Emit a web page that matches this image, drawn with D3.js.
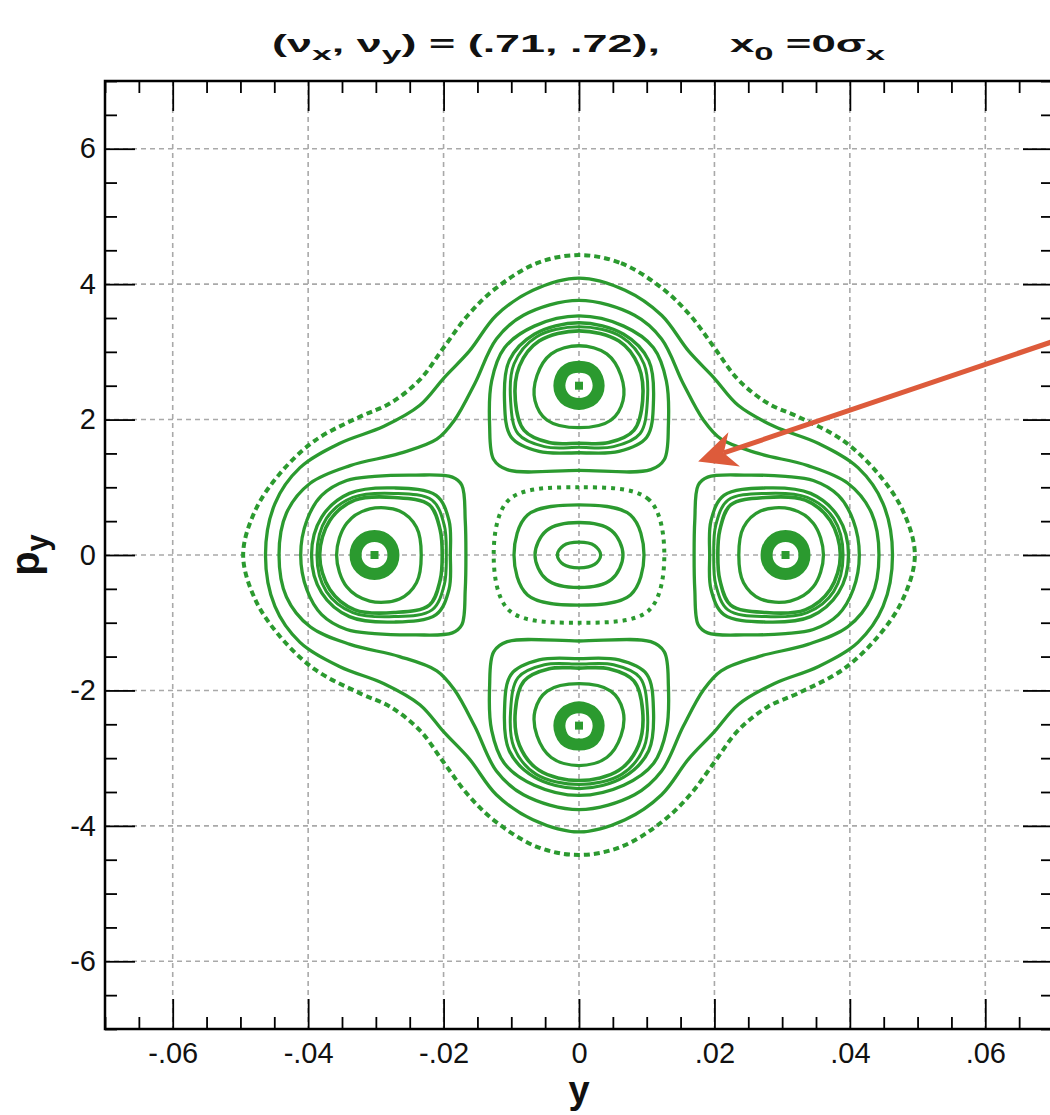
<!DOCTYPE html>
<html>
<head>
<meta charset="utf-8">
<script src="https://cdn.jsdelivr.net/npm/d3@7"></script>
<style>
  html, body { margin: 0; padding: 0; background: #fff; }
  svg { display: block; }
</style>
</head>
<body>
<svg id="chart" width="1050" height="1115"></svg>
<script>
// ---- Phase-space data: (y, p_y) points along each invariant curve ----

// Tick values and labels
const xMajor = [-0.06, -0.04, -0.02, 0, 0.02, 0.04, 0.06];
const xTickLabels = ["-.06", "-.04", "-.02", "0", ".02", ".04", ".06"];
const yMajor = [-6, -4, -2, 0, 2, 4, 6];
const yTickLabels = ["-6", "-4", "-2", "0", "2", "4", "6"];

// Outermost (dotted) orbit
const outerDotted = [
  [0, 4.43], [.0062, 4.31], [.0124, 3.93], [.0165, 3.53], [.020, 3.06], [.0235, 2.59], [.0279, 2.24], [.0324, 2.04], [.039, 1.69], [.0441, 1.21], [.0478, .66], [.0496, 0],
  [.0478, -.66], [.0441, -1.21], [.039, -1.69], [.0324, -2.04], [.0279, -2.24], [.0235, -2.59], [.020, -3.06], [.0165, -3.53], [.0124, -3.93], [.0062, -4.31], [0, -4.43],
  [-.0062, -4.31], [-.0124, -3.93], [-.0165, -3.53], [-.020, -3.06], [-.0235, -2.59], [-.0279, -2.24], [-.0324, -2.04], [-.039, -1.69], [-.0441, -1.21], [-.0478, -.66], [-.0496, 0],
  [-.0478, .66], [-.0441, 1.21], [-.039, 1.69], [-.0324, 2.04], [-.0279, 2.24], [-.0235, 2.59], [-.020, 3.06], [-.0165, 3.53], [-.0124, 3.93], [-.0062, 4.31]
];

// Second outer orbit
const outerSolid = [
  [0, 4.09], [.0068, 3.91], [.0122, 3.54], [.0162, 3.01], [.0199, 2.62], [.0235, 2.21], [.0288, 1.90], [.0353, 1.65], [.0412, 1.29], [.0449, .76], [.0463, 0],
  [.0449, -.76], [.0412, -1.29], [.0353, -1.65], [.0288, -1.90], [.0235, -2.21], [.0199, -2.62], [.0162, -3.01], [.0122, -3.54], [.0068, -3.91], [0, -4.09],
  [-.0068, -3.91], [-.0122, -3.54], [-.0162, -3.01], [-.0199, -2.62], [-.0235, -2.21], [-.0288, -1.90], [-.0353, -1.65], [-.0412, -1.29], [-.0449, -.76], [-.0463, 0],
  [-.0449, .76], [-.0412, 1.29], [-.0353, 1.65], [-.0288, 1.90], [-.0235, 2.21], [-.0199, 2.62], [-.0162, 3.01], [-.0122, 3.54], [-.0068, 3.91]
];

// Orbit hugging the four resonance islands
const separatrix = [
  [0, 3.76], [.0082, 3.54], [.0122, 3.19], [.0154, 2.53], [.0184, 1.99], [.021, 1.71], [.0265, 1.50], [.0338, 1.32], [.0397, 1.06], [.0432, .62], [.0443, 0],
  [.0432, -.62], [.0397, -1.06], [.0338, -1.32], [.0265, -1.50], [.021, -1.71], [.0184, -1.99], [.0154, -2.53], [.0122, -3.19], [.0082, -3.54], [0, -3.76],
  [-.0082, -3.54], [-.0122, -3.19], [-.0154, -2.53], [-.0184, -1.99], [-.021, -1.71], [-.0265, -1.50], [-.0338, -1.32], [-.0397, -1.06], [-.0432, -.62], [-.0443, 0],
  [-.0432, .62], [-.0397, 1.06], [-.0338, 1.32], [-.0265, 1.50], [-.021, 1.71], [-.0184, 1.99], [-.0154, 2.53], [-.0122, 3.19], [-.0082, 3.54]
];

// Central stable region around the origin
const core1 = [[.0032, 0], [.0023, .14], [0, .19], [-.0023, .14], [-.0032, 0], [-.0023, -.14], [0, -.19], [.0023, -.14]];
const core2 = [[.0065, 0], [.0048, .36], [0, .48], [-.0048, .36], [-.0065, 0], [-.0048, -.36], [0, -.48], [.0048, -.36]];
const core3 = [[.0096, 0], [.0076, .59], [0, .74], [-.0076, .59], [-.0096, 0], [-.0076, -.59], [0, -.74], [.0076, -.59]];
const core4 = [[.0126, 0], [.0103, .82], [0, 1.0], [-.0103, .82], [-.0126, 0], [-.0103, -.82], [0, -1.0], [.0103, -.82]];

// Island centres (fixed points of the 4th-order resonance)
const islandCentres = [
  { y: -0.0302, p: 0, axis: "h", sign: -1 },
  { y: 0.0305, p: 0, axis: "h", sign: 1 },
  { y: 0, p: 2.50, axis: "v", sign: 1 },
  { y: 0, p: -2.52, axis: "v", sign: -1 }
];

// Islands on the y axis: [offset away from the origin in y, offset in p_y]
const hRing1 = [[.0028, 0], [.002, .2], [0, .28], [-.002, .2], [-.0028, 0], [-.002, -.2], [0, -.28], [.002, -.2]];
const hRing2 = [[.0056, 0], [.0041, .47], [.0007, .68], [-.0037, .65], [-.0062, .41], [-.0069, 0], [-.0062, -.41], [-.0037, -.65], [.0007, -.68], [.0041, -.47]];
const hRing3 = [[.0081, 0], [.0066, .51], [.0029, .81], [-.0029, .85], [-.0081, .74], [-.0097, .37], [-.010, 0], [-.0097, -.37], [-.0081, -.74], [-.0029, -.85], [.0029, -.81], [.0066, -.51]];
const hRing3b = [[.0085, 0], [.0071, .54], [.0032, .85], [-.0029, .91], [-.0085, .81], [-.0103, .44], [-.0106, 0], [-.0103, -.44], [-.0085, -.81], [-.0029, -.91], [.0032, -.85], [.0071, -.54]];
const hRing4 = [[.0093, 0], [.0078, .56], [.0037, .91], [-.0029, .99], [-.0091, .88], [-.011, .51], [-.0112, 0], [-.011, -.51], [-.0091, -.88], [-.0029, -.99], [.0037, -.91], [.0078, -.56]];
const hRing5 = [[.0109, 0], [.010, .51], [.0078, .88], [.0041, 1.10], [0, 1.16], [-.0059, 1.18], [-.0115, 1.15], [-.0129, 1.03], [-.0134, .51], [-.0135, 0],
                [-.0134, -.51], [-.0129, -1.03], [-.0115, -1.15], [-.0059, -1.18], [0, -1.16], [.0041, -1.10], [.0078, -.88], [.010, -.51]];

// Islands on the p_y axis: [offset in y, offset away from the origin in p_y]
const vRing1 = [[0, .28], [.0021, .21], [.0029, 0], [.0021, -.19], [0, -.27], [-.0021, -.19], [-.0029, 0], [-.0021, .21]];
const vRing2 = [[0, .59], [.0041, .47], [.0062, .15], [.0065, -.22], [.0047, -.51], [0, -.62], [-.0047, -.51], [-.0065, -.22], [-.0062, .15], [-.0041, .47]];
const vRing3 = [[0, .81], [.0059, .66], [.0088, .29], [.0094, -.22], [.0081, -.66], [.0044, -.84], [0, -.85], [-.0044, -.84], [-.0081, -.66], [-.0094, -.22], [-.0088, .29], [-.0059, .66]];
const vRing3b = [[0, .87], [.0063, .72], [.0096, .32], [.0101, -.22], [.009, -.71], [.0051, -.90], [0, -.91], [-.0051, -.90], [-.009, -.71], [-.0101, -.22], [-.0096, .32], [-.0063, .72]];
const vRing4 = [[0, .93], [.0066, .76], [.0103, .37], [.011, -.22], [.010, -.76], [.0059, -.97], [0, -.99], [-.0059, -.97], [-.010, -.76], [-.011, -.22], [-.0103, .37], [-.0066, .76]];
const vRing5 = [[0, 1.03], [.0066, .88], [.011, .56], [.0129, .07], [.0132, -.59], [.0126, -1.09], [.0106, -1.24], [0, -1.25],
                [-.0106, -1.24], [-.0126, -1.09], [-.0132, -.59], [-.0129, .07], [-.011, .56], [-.0066, .88]];

// Annotation arrow: tail and head in (y, p_y)
const arrowTail = [0.0705, 3.17];
const arrowHead = [0.0176, 1.38];

// ---- Drawing ----
const W = 1050, H = 1115;
const GREEN = "#2b9a2f";
const svg = d3.select("#chart");
svg.append("rect").attr("width", W).attr("height", H).attr("fill", "#fff");

const x = d3.scaleLinear().domain([-0.07, 0.07]).range([105, 1053]);
const y = d3.scaleLinear().domain([-7, 7]).range([1029, 81]);

// grid
const grid = svg.append("g").attr("stroke", "#a9a9a9").attr("stroke-width", 1.6).attr("stroke-dasharray", "5,4");
grid.selectAll("line.gx").data(xMajor).join("line").attr("class", "gx")
  .attr("x1", d => x(d)).attr("x2", d => x(d)).attr("y1", y(7)).attr("y2", y(-7));
grid.selectAll("line.gy").data(yMajor).join("line").attr("class", "gy")
  .attr("y1", d => y(d)).attr("y2", d => y(d)).attr("x1", x(-0.07)).attr("x2", x(0.07));

// curves
const line = d3.line().x(d => x(d[0])).y(d => y(d[1])).curve(d3.curveCatmullRomClosed.alpha(0.5));
const plot = svg.append("g").attr("fill", "none").attr("stroke", GREEN);

function drawCurve(pts, width, dash) {
  const p = plot.append("path").attr("d", line(pts)).attr("stroke-width", width);
  if (dash) p.attr("stroke-dasharray", dash);
}

drawCurve(outerDotted, 4, "6,4");
drawCurve(outerSolid, 3.3);
drawCurve(separatrix, 3.3);
drawCurve(core1, 3.3);
drawCurve(core2, 3.3);
drawCurve(core3, 3.3);
drawCurve(core4, 4, "4,5");

const hRings = [[hRing1, 12], [hRing2, 3.3], [hRing3, 3.6], [hRing3b, 3], [hRing4, 3.3], [hRing5, 3.3]];
const vRings = [[vRing1, 12], [vRing2, 3.3], [vRing3, 3.6], [vRing3b, 3], [vRing4, 3.3], [vRing5, 3.3]];

islandCentres.forEach(c => {
  const rings = c.axis === "h" ? hRings : vRings;
  rings.forEach(([ring, w]) => {
    const pts = ring.map(([a, b]) => c.axis === "h"
      ? [c.y + c.sign * a, c.p + b]
      : [c.y + a, c.p + c.sign * b]);
    drawCurve(pts, w);
  });
  svg.append("rect")
    .attr("x", x(c.y) - 4).attr("y", y(c.p) - 4).attr("width", 8).attr("height", 8)
    .attr("fill", GREEN);
});

// axes
const FONT = "'Liberation Sans', Arial, Helvetica, sans-serif";
function styleAxis(g) {
  g.select(".domain").remove();
  g.selectAll(".tick line").attr("stroke", "#000").attr("stroke-width", 1.8);
  g.selectAll(".tick text").attr("fill", "#111").attr("font-family", FONT).attr("font-size", 29);
}
const xMinor = x.ticks(28).filter(v => !xMajor.some(m => Math.abs(m - v) < 1e-9));
const yMinor = y.ticks(28).filter(v => !yMajor.some(m => Math.abs(m - v) < 1e-9));

svg.append("g").attr("transform", `translate(0,${y(-7)})`)
  .call(d3.axisBottom(x).tickValues(xMajor).tickSize(-30).tickPadding(13).tickFormat((d, i) => xTickLabels[i]))
  .call(styleAxis);
svg.append("g").attr("transform", `translate(0,${y(-7)})`)
  .call(d3.axisBottom(x).tickValues(xMinor).tickSize(-12).tickFormat("")).call(styleAxis);
svg.append("g").attr("transform", `translate(0,${y(7)})`)
  .call(d3.axisTop(x).tickValues(xMajor).tickSize(-30).tickFormat("")).call(styleAxis);
svg.append("g").attr("transform", `translate(0,${y(7)})`)
  .call(d3.axisTop(x).tickValues(xMinor).tickSize(-12).tickFormat("")).call(styleAxis);

svg.append("g").attr("transform", `translate(${x(-0.07)},0)`)
  .call(d3.axisLeft(y).tickValues(yMajor).tickSize(-30).tickPadding(9).tickFormat((d, i) => yTickLabels[i]))
  .call(styleAxis);
svg.append("g").attr("transform", `translate(${x(-0.07)},0)`)
  .call(d3.axisLeft(y).tickValues(yMinor).tickSize(-12).tickFormat("")).call(styleAxis);
svg.append("g").attr("transform", `translate(${x(0.07)},0)`)
  .call(d3.axisRight(y).tickValues(yMajor).tickSize(-30).tickFormat("")).call(styleAxis);
svg.append("g").attr("transform", `translate(${x(0.07)},0)`)
  .call(d3.axisRight(y).tickValues(yMinor).tickSize(-12).tickFormat("")).call(styleAxis);

// frame
svg.append("rect")
  .attr("x", x(-0.07)).attr("y", y(7))
  .attr("width", x(0.07) - x(-0.07)).attr("height", y(-7) - y(7))
  .attr("fill", "none").attr("stroke", "#000").attr("stroke-width", 2.5);

// arrow annotation
const tail = [x(arrowTail[0]), y(arrowTail[1])];
const tip = [x(arrowHead[0]), y(arrowHead[1])];
const dx = tail[0] - tip[0], dy = tail[1] - tip[1];
const len = Math.hypot(dx, dy);
const ux = dx / len, uy = dy / len, nx = -uy, ny = ux;
const headLen = 38, headHalf = 18, notch = 27;
const ARROW = "#dd5b3b";
svg.append("line")
  .attr("x1", tail[0]).attr("y1", tail[1])
  .attr("x2", tip[0] + ux * notch).attr("y2", tip[1] + uy * notch)
  .attr("stroke", ARROW).attr("stroke-width", 5);
svg.append("path")
  .attr("d", `M${tip[0]},${tip[1]}`
    + `L${tip[0] + ux * headLen + nx * headHalf},${tip[1] + uy * headLen + ny * headHalf}`
    + `L${tip[0] + ux * notch},${tip[1] + uy * notch}`
    + `L${tip[0] + ux * headLen - nx * headHalf},${tip[1] + uy * headLen - ny * headHalf}Z`)
  .attr("fill", ARROW);

// title: two stretched pieces, each with sub-scripted parts
function titlePiece(x0, width, parts) {
  const t = svg.append("text")
    .attr("x", x0).attr("y", 52)
    .attr("textLength", width).attr("lengthAdjust", "spacingAndGlyphs")
    .attr("font-family", FONT).attr("font-size", 24).attr("font-weight", "bold").attr("fill", "#111");
  let low = false;
  parts.forEach(([txt, isSub]) => {
    const s = t.append("tspan").text(txt);
    if (isSub && !low) { s.attr("dy", 8).attr("font-size", 19); low = true; }
    else if (isSub) { s.attr("font-size", 19); }
    else if (low) { s.attr("dy", -8); low = false; }
  });
}
titlePiece(272, 388, [["(ν", false], ["x", true], [", ν", false], ["y", true], [") = (.71, .72),", false]]);
titlePiece(730, 155, [["x", false], ["0", true], [" =0σ", false], ["x", true]]);

// axis titles
svg.append("text")
  .attr("x", x(0)).attr("y", 1103).attr("text-anchor", "middle")
  .attr("font-family", FONT).attr("font-size", 38).attr("font-weight", "bold").attr("fill", "#111")
  .text("y");
const yl = svg.append("text")
  .attr("transform", `translate(39,${y(0)}) rotate(-90)`).attr("text-anchor", "middle")
  .attr("font-family", FONT).attr("font-size", 40).attr("font-weight", "bold").attr("fill", "#111");
yl.append("tspan").text("p");
yl.append("tspan").attr("font-size", 31).attr("dy", 9).text("y");
</script>
</body>
</html>
